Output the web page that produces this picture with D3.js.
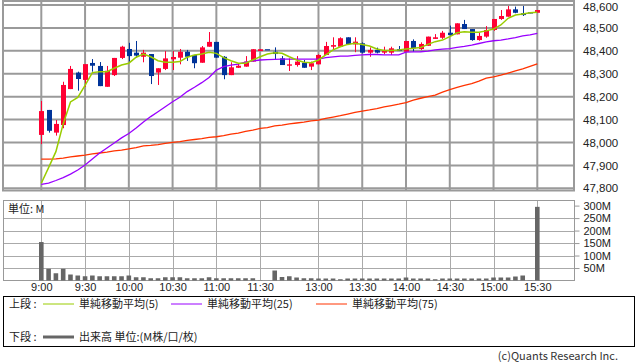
<!DOCTYPE html>
<html>
<head>
<meta charset="utf-8">
<script src="https://cdn.jsdelivr.net/npm/d3@7"></script>
<style>
  body { margin: 0; background: #fff; }
  svg { font-family: "Noto Sans CJK JP", "DejaVu Sans", sans-serif; }
</style>
</head>
<body>
<svg id="chart" width="638" height="362"></svg>
<script>
// 5 minute bars, index 0 = 9:00 ... index 68 = 15:30
const open = [48033,48142,48043,48076,48233,48305,48273,48347,48334,48243,48294,48369,48408,48392,48374,48386,48305,48321,48363,48370,
  48396,48382,48348,48418,48439,48374,48294,48326,48331,48353,48399,48407,48396,48367,48335,48338,48348,48331,48341,48382,
  48418,48418,48459,48428,48433,48392,48404,48392,48392,48407,48396,48443,48408,48422,48452,48457,48479,48472,48517,48495,
  48447,48462,48491,48539,48549,48581,48564,48568,48566]
const high = [48181,48142,48098,48265,48334,48309,48342,48364,48351,48334,48369,48422,48435,48443,48404,48386,48324,48399,48399,48408,
  48404,48382,48421,48482,48439,48377,48350,48347,48377,48407,48407,48407,48415,48377,48367,48377,48360,48353,48385,48439,
  48459,48459,48459,48459,48437,48415,48414,48418,48418,48421,48443,48450,48437,48462,48473,48487,48510,48520,48535,48495,
  48479,48508,48539,48578,48596,48593,48596,48568,48578]
const low = [47993,48043,48030,48062,48233,48226,48243,48309,48246,48243,48290,48364,48353,48370,48350,48255,48251,48316,48316,48341,
  48356,48324,48348,48418,48370,48276,48294,48325,48331,48353,48399,48407,48364,48338,48312,48331,48326,48316,48341,48382,
  48404,48418,48430,48394,48389,48374,48389,48385,48382,48399,48396,48396,48404,48422,48452,48452,48466,48472,48495,48444,
  48444,48457,48487,48535,48549,48564,48552,48564,48566]
const close = [48137,48051,48081,48251,48321,48277,48342,48335,48246,48313,48369,48418,48377,48379,48392,48290,48324,48367,48373,48396,
  48374,48346,48415,48439,48370,48294,48328,48335,48353,48407,48407,48407,48386,48338,48341,48353,48326,48346,48382,48421,
  48425,48455,48430,48440,48392,48404,48392,48399,48411,48399,48443,48411,48430,48462,48459,48479,48469,48520,48495,48447,
  48465,48491,48539,48552,48581,48566,48556,48564,48578]

// volume, millions
const volume = [154,47,29,47,24,20,17,20,17,17,17,17,20,13,13,9,9,13,13,13,
  9,9,9,13,9,9,9,9,9,9,1,0,40,14,17,12,9,9,8,8,
  8,5,8,8,8,8,8,8,8,8,12,8,8,8,5,8,8,8,8,8,
  8,8,12,12,12,16,20,1,295]

// moving averages as drawn
const ma5 = [47822,47890,47960,48081,48177,48197,48249,48305,48309,48309,48324,48338,48346,48372,48386,48374,48357,48350,48350,48353,
  48372,48382,48386,48394,48389,48370,48357,48346,48346,48360,48374,48386,48392,48389,48374,48360,48350,48348,48360,48382,
  48404,48418,48428,48433,48428,48421,48408,48401,48401,48404,48408,48411,48414,48428,48440,48447,48462,48479,48483,48481,
  48481,48487,48495,48513,48542,48556,48561,48566,48568]
const ma25 = [47817,47823,47834,47847,47862,47880,47902,47928,47954,47976,47998,48020,48039,48063,48089,48113,48134,48156,48178,48197,
  48222,48241,48261,48284,48316,48331,48338,48342,48351,48356,48360,48362,48363,48364,48364,48364,48364,48364,48364,48370,
  48374,48377,48377,48380,48382,48384,48384,48382,48382,48382,48394,48395,48396,48399,48404,48407,48410,48415,48419,48425,
  48432,48439,48444,48447,48452,48458,48465,48470,48476]
const ma75 = [47927,47927,47928,47932,47937,47941,47945,47950,47954,47958,47963,47967,47972,47978,47985,47987,47991,47996,48000,48004,
  48009,48013,48017,48022,48025,48030,48036,48041,48048,48054,48062,48065,48072,48076,48081,48085,48089,48094,48098,48105,
  48111,48117,48124,48131,48137,48142,48148,48155,48161,48167,48174,48185,48193,48200,48207,48220,48231,48241,48249,48257,
  48268,48281,48286,48294,48303,48312,48321,48332,48343]

const tickIdx = [0, 6, 12, 18, 24, 30, 38, 44, 50, 56, 62, 68]
const tickLabels = ['9:00','9:30','10:00','10:30','11:00','11:30','13:00','13:30','14:00','14:30','15:00','15:30']
const priceTicks = [47800, 47900, 48000, 48100, 48200, 48300, 48400, 48500, 48600]
const volTicks = [50, 100, 150, 200, 250, 300]

const svg = d3.select('#chart')

const left = 3, right = 574
const top1 = 1, bottom1 = 190.5
const top2 = 200.5, bottom2 = 280.5

const x = d3.scaleLinear().domain([0, 68]).range([41.3, 537.3])
const y = d3.scaleLinear().domain([47800, 48600]).range([188.3, 5])
const v = d3.scaleLinear().domain([0, 300]).range([280.5, 205.6])

const idx = d3.range(open.length)

/**
 * price panel grid
 */
const g1 = svg.append('g')
g1.selectAll('line.h').data(priceTicks).join('line')
  .attr('x1', left).attr('x2', right)
  .attr('y1', d => y(d)).attr('y2', d => y(d))
  .attr('stroke', '#9a9a9a').attr('stroke-width', 2)
g1.selectAll('line.v').data(tickIdx).join('line')
  .attr('x1', d => x(d)).attr('x2', d => x(d))
  .attr('y1', top1).attr('y2', bottom1)
  .attr('stroke', '#9a9a9a').attr('stroke-width', 2)
g1.append('rect')
  .attr('x', left).attr('y', top1).attr('width', right - left).attr('height', bottom1 - top1)
  .attr('fill', 'none').attr('stroke', '#9a9a9a').attr('stroke-width', 2)

// candles
const up = i => close[i] > open[i]
const candles = svg.append('g')
candles.selectAll('line').data(idx).join('line')
  .attr('x1', i => Math.round(x(i)) + 0.5).attr('x2', i => Math.round(x(i)) + 0.5)
  .attr('y1', i => y(high[i])).attr('y2', i => y(low[i]))
  .attr('stroke', i => up(i) ? '#ff0033' : '#003399').attr('stroke-width', 1)
candles.selectAll('rect').data(idx).join('rect')
  .attr('x', i => Math.round(x(i)) - 2)
  .attr('width', 5)
  .attr('y', i => y(Math.max(open[i], close[i])))
  .attr('height', i => Math.max(1.2, Math.abs(y(open[i]) - y(close[i]))))
  .attr('fill', i => up(i) ? '#ff0033' : '#003399')

// moving averages
const line = arr => d3.line().x(i => x(i)).y(i => y(arr[i]))(idx)
svg.append('path').attr('d', line(ma75)).attr('fill', 'none').attr('stroke', '#ff3300').attr('stroke-width', 1.3)
svg.append('path').attr('d', line(ma25)).attr('fill', 'none').attr('stroke', '#9900ff').attr('stroke-width', 1.3)
svg.append('path').attr('d', line(ma5)).attr('fill', 'none').attr('stroke', '#99cc00').attr('stroke-width', 1.5)

// price axis
svg.append('g')
  .attr('transform', `translate(${right},0)`)
  .call(d3.axisRight(y).tickValues(priceTicks).tickFormat(d3.format(',')).tickSize(0).tickPadding(9))
  .call(g => g.select('.domain').remove())
  .call(g => g.selectAll('text').attr('font-size', 11.5).attr('fill', '#222').style('font-family', 'inherit'))
  .call(g => g.selectAll('.tick').filter(d => d === 48600).select('text').attr('dy', '0.5em'))

/**
 * volume panel
 */
const g2 = svg.append('g')
g2.selectAll('line.h').data(volTicks.filter(d => d < 300)).join('line')
  .attr('x1', left).attr('x2', right)
  .attr('y1', d => Math.round(v(d)) + 0.5).attr('y2', d => Math.round(v(d)) + 0.5)
  .attr('stroke', '#aaa').attr('stroke-width', 1)
g2.selectAll('line.v').data(tickIdx).join('line')
  .attr('x1', d => Math.round(x(d)) + 0.5).attr('x2', d => Math.round(x(d)) + 0.5)
  .attr('y1', top2).attr('y2', bottom2)
  .attr('stroke', '#aaa').attr('stroke-width', 1)
g2.append('rect')
  .attr('x', left + 0.5).attr('y', top2).attr('width', right - left).attr('height', bottom2 - top2)
  .attr('fill', 'none').attr('stroke', '#999').attr('stroke-width', 1)

g2.selectAll('rect.bar').data(idx.filter(i => volume[i] > 0)).join('rect')
  .attr('class', 'bar')
  .attr('x', i => x(i) - 2.3)
  .attr('width', 4.6)
  .attr('y', i => v(volume[i]))
  .attr('height', i => v(0) - v(volume[i]))
  .attr('fill', '#666')

svg.append('text').attr('x', 8).attr('y', 213).attr('font-size', 11).attr('fill', '#222').text('単位: M')

svg.append('g')
  .attr('transform', `translate(${right + 0.5},0)`)
  .call(d3.axisRight(v).tickValues(volTicks).tickFormat(d => d + 'M').tickSize(5).tickPadding(4))
  .call(g => g.select('.domain').remove())
  .call(g => g.selectAll('line').attr('stroke', '#999'))
  .call(g => g.selectAll('text').attr('font-size', 11).attr('fill', '#222').style('font-family', 'inherit'))

// time axis
svg.append('g')
  .attr('transform', `translate(0,${bottom2})`)
  .call(d3.axisBottom(x).tickValues(tickIdx).tickFormat((d, i) => tickLabels[i]).tickSize(0).tickPadding(3))
  .call(g => g.select('.domain').remove())
  .call(g => g.selectAll('text').attr('font-size', 11).attr('fill', '#222').style('font-family', 'inherit'))

/**
 * legend
 */
const lg = svg.append('g')
lg.append('rect').attr('x', 3.5).attr('y', 296.5).attr('width', 631).attr('height', 50)
  .attr('fill', 'none').attr('stroke', '#000').attr('stroke-width', 1)

const legendItems = [
  { x1: 43, label: '単純移動平均(5)', color: '#99cc00' },
  { x1: 171, label: '単純移動平均(25)', color: '#9900ff' },
  { x1: 316, label: '単純移動平均(75)', color: '#ff3300' }
]
lg.append('text').attr('x', 9).attr('y', 308).attr('font-size', 11).attr('fill', '#222').text('上段 :')
legendItems.forEach(({ x1, label, color }) => {
  lg.append('line').attr('x1', x1).attr('x2', x1 + 31).attr('y1', 304).attr('y2', 304)
    .attr('stroke', color).attr('stroke-width', 1)
  lg.append('text').attr('x', x1 + 36).attr('y', 308).attr('font-size', 11).attr('fill', '#222').text(label)
})
lg.append('text').attr('x', 9).attr('y', 341).attr('font-size', 11).attr('fill', '#222').text('下段 :')
lg.append('line').attr('x1', 43).attr('x2', 74).attr('y1', 337).attr('y2', 337)
  .attr('stroke', '#666').attr('stroke-width', 3)
lg.append('text').attr('x', 79).attr('y', 341).attr('font-size', 11).attr('fill', '#222').text('出来高 単位:(M株/口/枚)')

svg.append('text').attr('x', 618).attr('y', 360).attr('text-anchor', 'end')
  .attr('font-size', 11).attr('fill', '#333').text('(c)Quants Research Inc.')
</script>
</body>
</html>
